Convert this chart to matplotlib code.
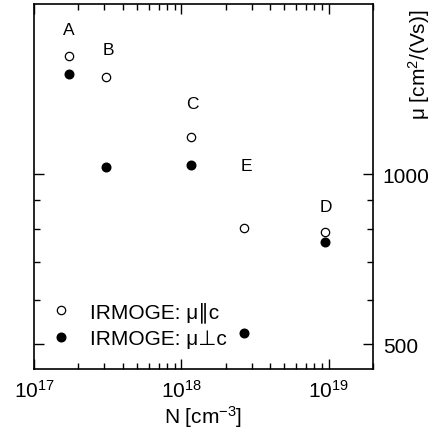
import matplotlib
matplotlib.use('Agg')
import matplotlib.pyplot as plt
from matplotlib.ticker import FixedLocator, NullFormatter, LogLocator, FixedFormatter

plt.rcParams['font.family'] = ['Liberation Sans', 'DejaVu Sans']
plt.rcParams['mathtext.fontset'] = 'custom'
plt.rcParams['mathtext.rm'] = 'Liberation Sans'
plt.rcParams['mathtext.it'] = 'Liberation Sans:italic'
plt.rcParams['mathtext.default'] = 'regular'

# samples A, B, C, E, D
samples = ['A', 'B', 'C', 'E', 'D']
N = [1.73e17, 3.1e17, 1.17e18, 2.67e18, 9.5e18]
mu_par = [1616, 1487, 1163, 804, 791]
mu_perp = [1505, 1028, 1037, 523, 758]

# label positions
label_x = [1.73e17, 3.2e17, 1.18e18, 2.75e18, 9.6e18]
label_y = [1800, 1660, 1335, 1037, 877]

fig = plt.figure(figsize=(4.36, 4.39), dpi=100)
ax = fig.add_axes([0.078, 0.157, 0.7775, 0.8316])

ax.plot(N, mu_par, 'o', ms=6, mfc='white', mec='black', mew=0.9,
        ls='none', label='IRMOGE: μ∥c')
ax.plot(N, mu_perp, 'o', ms=6.2, mfc='black', mec='black',
        ls='none', label='IRMOGE: μ⊥c')

for s, x, y in zip(samples, label_x, label_y):
    ax.text(x, y, s, ha='center', va='center', fontsize=12.5)

ax.set_xscale('log')
ax.set_yscale('log')
ax.set_xlim(1e17, 2e19)
ax.set_ylim(452, 2000)

ax.xaxis.set_major_locator(LogLocator(base=10, numticks=10))
ax.xaxis.set_minor_locator(LogLocator(base=10, subs=range(2, 10), numticks=20))
ax.xaxis.set_minor_formatter(NullFormatter())

ax.yaxis.set_major_locator(FixedLocator([500, 1000]))
ax.yaxis.set_major_formatter(FixedFormatter(['500', '1000']))
ax.yaxis.set_minor_locator(FixedLocator([600, 700, 800, 900]))
ax.yaxis.set_minor_formatter(NullFormatter())

ax.tick_params(which='both', direction='in', top=True, right=True,
               left=True, bottom=True, labelleft=False, labelright=True,
               labelsize=15, width=1)
ax.tick_params(which='major', length=7, pad=7)
ax.tick_params(which='minor', length=4)
for sp in ax.spines.values():
    sp.set_linewidth(1.2)

ax.set_xlabel('N [cm$^{-3}$]', fontsize=15, labelpad=2)
fig.text(0.961, 0.978, 'μ [cm$^2$/(Vs)]', fontsize=15, rotation=90,
         ha='center', va='top')

ax.legend(loc='lower left', bbox_to_anchor=(0.055, 0.058), frameon=False,
          fontsize=15, handlelength=0.8, handletextpad=1.0, labelspacing=0.35,
          borderaxespad=0, borderpad=0)

fig.savefig('out.png', dpi=100)
